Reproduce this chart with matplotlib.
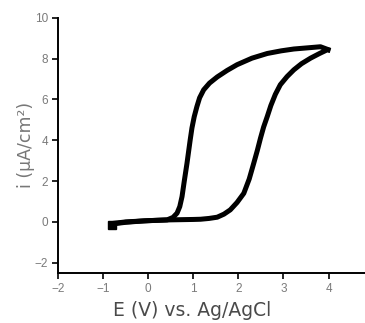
import matplotlib
matplotlib.use("Agg")
import matplotlib.pyplot as plt

plt.rcParams['font.family'] = ['Liberation Sans', 'DejaVu Sans']

# forward scan (lower branch), then reverse scan (upper branch)
fwd_E = [-0.80, -0.5, 0.0, 0.49, 1.0, 1.16, 1.35, 1.53, 1.68, 1.82, 1.97, 2.12, 2.24, 2.34, 2.42, 2.49,
         2.56, 2.64, 2.72, 2.82, 2.93, 3.08, 3.23, 3.40, 3.60, 3.80, 3.97, 4.04]
fwd_i = [-0.08, 0.0, 0.06, 0.10, 0.12, 0.13, 0.17, 0.23, 0.38, 0.59, 0.95, 1.40, 2.10, 2.87, 3.50, 4.10,
         4.65, 5.16, 5.70, 6.25, 6.72, 7.12, 7.45, 7.75, 8.02, 8.25, 8.43, 8.40]
rev_E = [4.04, 3.82, 3.50, 3.23, 2.95, 2.64, 2.30, 1.97, 1.75, 1.53, 1.36, 1.23, 1.14, 1.08, 1.02, 0.97,
         0.93, 0.86, 0.80, 0.75, 0.70, 0.64, 0.55, 0.42, 0.20, -0.10, -0.50, -0.80]
rev_i = [8.40, 8.58, 8.52, 8.47, 8.38, 8.25, 8.02, 7.70, 7.42, 7.10, 6.80, 6.47, 6.08, 5.65, 5.15, 4.60,
         4.00, 2.87, 2.00, 1.24, 0.75, 0.43, 0.22, 0.10, 0.08, 0.05, -0.02, -0.10]

xticks = [-2, -1, 0, 1, 2, 3, 4]
yticks = [-2, 0, 2, 4, 6, 8, 10]

fig = plt.figure(figsize=(3.65, 3.23), dpi=100)
ax = fig.add_axes([0.159, 0.155, 0.84, 0.79])

ax.plot(fwd_E, fwd_i, color='black', lw=3.6, solid_capstyle='butt')
ax.plot(rev_E, rev_i, color='black', lw=3.6, solid_capstyle='butt')
ax.plot([fwd_E[0]], [fwd_i[0] - 0.05], marker='s', ms=6, color='black')

ax.set_xlim(-2, 4.8)
ax.set_ylim(-2.5, 10)
ax.set_xticks(xticks)
ax.set_yticks(yticks)

for s in ['top', 'right']:
    ax.spines[s].set_visible(False)
for s in ['left', 'bottom']:
    ax.spines[s].set_linewidth(1.4)

ax.tick_params(direction='out', length=4, width=1.2, labelsize=8.5, labelcolor='#7a7a7a', pad=3)

ax.set_xlabel('E (V) vs. Ag/AgCl', fontsize=13.5, color='#4a4a4a', family='DejaVu Sans')
ax.xaxis.set_label_coords(0.437, -0.11)
ax.set_ylabel('i (μA/cm²)', fontsize=12.5, color='#777777', family='DejaVu Sans', labelpad=0)

fig.savefig('out.png', dpi=100)
